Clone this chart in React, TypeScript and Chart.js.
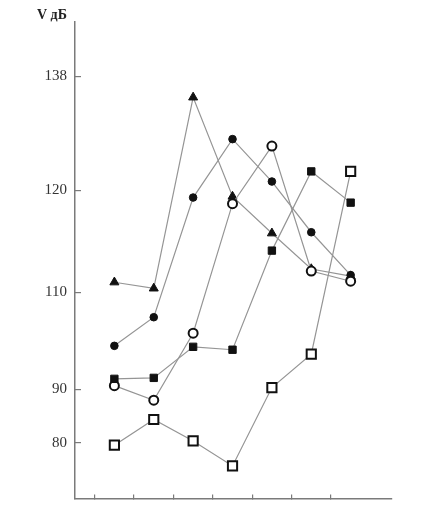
import React, { useEffect, useRef } from "react";
import { Chart, registerables, LinearScale } from "chart.js";

// ---- data ----
const STEPS = [1, 2, 3, 4, 5, 6, 7];
const X_TICKS = [0.5, 1.5, 2.5, 3.5, 4.5, 5.5, 6.5];
const Y_TICKS = [80, 90, 110, 120, 138];
const Y_TITLE = "V дБ";

const triangles = [111.0, 110.4, 134.7, 119.4, 115.8, 112.3, 111.6];
const filledCircles = [99.0, 104.9, 119.3, 128.1, 121.4, 115.9, 111.7];
const openCircles = [90.8, 88.0, 101.6, 118.7, 127.0, 112.1, 111.1];
const filledSquares = [92.2, 92.4, 98.8, 98.2, 114.1, 123.0, 118.8];
const openSquares = [79.6, 84.4, 80.4, 75.7, 90.4, 97.3, 123.0];

// The original axis is not uniform: value stops and their share of axis height
const Y_STOPS = [69.6, 80, 90, 110, 120, 138, 146.6];
const Y_STOP_FRACTIONS = [0, 0.1164, 0.2287, 0.4324, 0.6466, 0.8857, 1];

function valueToFraction(v: number): number {
  const n = Y_STOPS.length;
  let i = 0;
  if (v <= Y_STOPS[0]) i = 0;
  else if (v >= Y_STOPS[n - 1]) i = n - 2;
  else {
    while (i < n - 2 && v > Y_STOPS[i + 1]) i++;
  }
  const t = (v - Y_STOPS[i]) / (Y_STOPS[i + 1] - Y_STOPS[i]);
  return Y_STOP_FRACTIONS[i] + t * (Y_STOP_FRACTIONS[i + 1] - Y_STOP_FRACTIONS[i]);
}

function fractionToValue(f: number): number {
  const n = Y_STOP_FRACTIONS.length;
  let i = 0;
  if (f <= Y_STOP_FRACTIONS[0]) i = 0;
  else if (f >= Y_STOP_FRACTIONS[n - 1]) i = n - 2;
  else {
    while (i < n - 2 && f > Y_STOP_FRACTIONS[i + 1]) i++;
  }
  const t = (f - Y_STOP_FRACTIONS[i]) / (Y_STOP_FRACTIONS[i + 1] - Y_STOP_FRACTIONS[i]);
  return Y_STOPS[i] + t * (Y_STOPS[i + 1] - Y_STOPS[i]);
}

class PiecewiseScale extends LinearScale {
  static id = "piecewise";
  static defaults = LinearScale.defaults;
  getPixelForValue(value: any): number {
    if (value === null || value === undefined || isNaN(value)) return NaN;
    return (this as any).getPixelForDecimal(valueToFraction(+value));
  }
  getValueForPixel(pixel: number): number {
    return fractionToValue((this as any).getDecimalForPixel(pixel));
  }
}

Chart.register(...registerables, PiecewiseScale as any);

const LINE_COLOR = "#959595";
const AXIS_COLOR = "#7a7a7a";
const SERIF = '"Liberation Serif", "DejaVu Serif", serif';

const titlePlugin = {
  id: "yTitleTop",
  afterDraw(chart: any) {
    const { ctx, chartArea } = chart;
    ctx.save();
    ctx.fillStyle = "#222";
    ctx.font = `bold 14px ${SERIF}`;
    ctx.textAlign = "left";
    ctx.textBaseline = "middle";
    ctx.fillText(Y_TITLE, chartArea.left - 38, chartArea.top - 7);
    ctx.restore();
  },
};

function series(values: number[], style: any) {
  return {
    data: STEPS.map((x, i) => ({ x, y: values[i] })),
    borderColor: LINE_COLOR,
    borderWidth: 1.2,
    pointBorderColor: "#111",
    ...style,
  };
}

export default function App() {
  const ref = useRef<HTMLCanvasElement | null>(null);
  useEffect(() => {
    if (!ref.current) return;
    const chart = new Chart(ref.current, {
      type: "line",
      data: {
        datasets: [
          series(openSquares, { pointStyle: "rect", pointRadius: 6.5, pointBorderWidth: 2, pointBackgroundColor: "#fff" }),
          series(filledSquares, { pointStyle: "rect", pointRadius: 5.2, pointBorderWidth: 1, pointBackgroundColor: "#111" }),
          series(openCircles, { pointStyle: "circle", pointRadius: 4.5, pointBorderWidth: 2, pointBackgroundColor: "#fff" }),
          series(filledCircles, { pointStyle: "circle", pointRadius: 3.8, pointBorderWidth: 1, pointBackgroundColor: "#111" }),
          series(triangles, { pointStyle: "triangle", pointRadius: 5.2, pointBorderWidth: 1, pointBackgroundColor: "#111" }),
        ],
      } as any,
      options: {
        animation: false,
        responsive: true,
        maintainAspectRatio: false,
        layout: { padding: { top: 22, right: 43, left: 0, bottom: 0 } },
        plugins: { legend: { display: false }, tooltip: { enabled: false } },
        scales: {
          x: {
            type: "linear",
            min: 0,
            max: 8.05,
            afterBuildTicks: (s: any) => {
              s.ticks = X_TICKS.map((value) => ({ value }));
            },
            afterFit: (s: any) => {
              s.height = 4;
              s.paddingLeft = 0;
              s.paddingRight = 0;
            },
            ticks: { display: false },
            grid: { drawOnChartArea: false, drawTicks: true, tickLength: -4, color: AXIS_COLOR, lineWidth: 1.2 },
            border: { color: AXIS_COLOR, width: 1.5 },
          },
          y: {
            type: "piecewise" as any,
            min: Y_STOPS[0],
            max: Y_STOPS[Y_STOPS.length - 1],
            afterBuildTicks: (s: any) => {
              s.ticks = Y_TICKS.map((value) => ({ value }));
            },
            afterFit: (s: any) => {
              s.width = 75;
              s.paddingTop = 0;
              s.paddingBottom = 0;
            },
            ticks: {
              padding: 14,
              color: "#333",
              font: { family: SERIF, size: 15 },
              callback: (v: any) => String(v),
            },
            grid: { drawOnChartArea: false, drawTicks: true, tickLength: -6, color: AXIS_COLOR, lineWidth: 1.2 },
            border: { color: AXIS_COLOR, width: 1.5 },
          },
        },
      } as any,
      plugins: [titlePlugin],
    });
    return () => chart.destroy();
  }, []);
  return (
    <div style={{ position: "absolute", left: 0, top: 0, width: 435, height: 507 }}>
      <canvas ref={ref} />
    </div>
  );
}
